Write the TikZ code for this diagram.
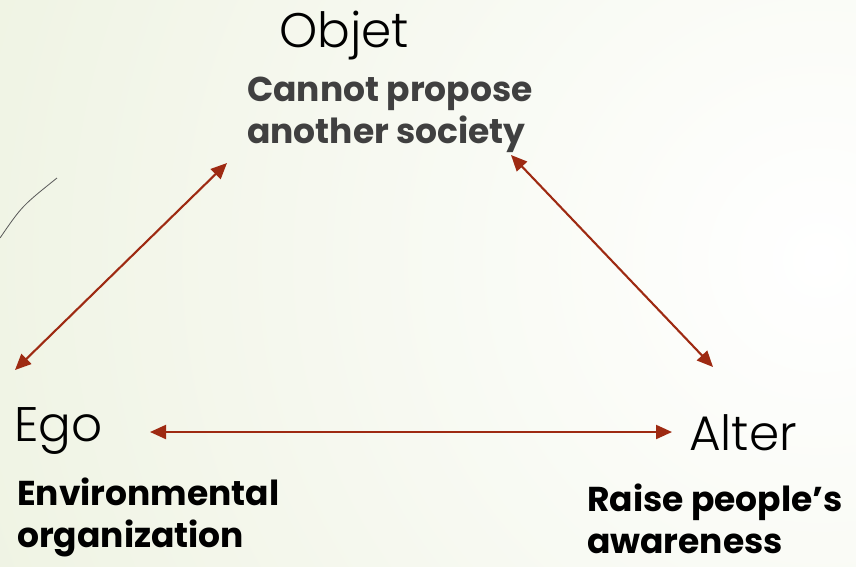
\documentclass[tikz,border=0pt]{standalone}
\usepackage{fontspec}
\setmainfont{Poppins}
\newfontfamily\thinfont{Poppins Light}
\usetikzlibrary{arrows.meta}
\definecolor{linkred}{HTML}{9E2A12}
\definecolor{bggreen}{HTML}{E4EBD0}
\definecolor{notegray}{HTML}{404040}
\begin{document}
\begin{tikzpicture}[x=1pt,y=-1pt]
\tikzset{
  pole/.style={inner sep=0pt,anchor=base west,font=\thinfont\fontsize{48.5}{52}\selectfont},
  note/.style={inner sep=0pt,anchor=base west,align=left,font=\bfseries\fontsize{34.5}{42}\selectfont},
  link/.style={draw=linkred,line width=2.1pt,{Triangle[length=16pt,width=14pt]}-{Triangle[length=16pt,width=14pt]}}
}
\begin{scope}
\clip (0,0) rectangle (856,566);
\fill[inner color=white,outer color=bggreen] (820,260) circle (1500);
\end{scope}
\useasboundingbox (0,0) rectangle (856,566);
\draw[gray!70!black,line width=0.8pt] (0,238) .. controls (22,206) .. (57,178);
\node[pole] (objet) at (279,47) {Objet};
\node[note,text=notegray] (objetnote) at (247,143) {Cannot propose\\another society};
\node[pole] (ego) at (14,441) {Ego};
\node[note] (egonote) at (17,547) {Environmental\\organization};
\node[pole] (alter) at (689,450) {Alter};
\node[note] (alternote) at (587,553) {Raise people{\char"27}s\\awareness};
\draw[link] ([shift={(1,-71)}]ego.base west) -- ([shift={(-52,116)}]objet.base west);
\draw[link] ([shift={(232,108)}]objet.base west) -- ([shift={(24,-83)}]alter.base west);
\draw[link] ([shift={(136,-9)}]ego.base west) -- ([shift={(-17,-18)}]alter.base west);
\end{tikzpicture}
\end{document}
